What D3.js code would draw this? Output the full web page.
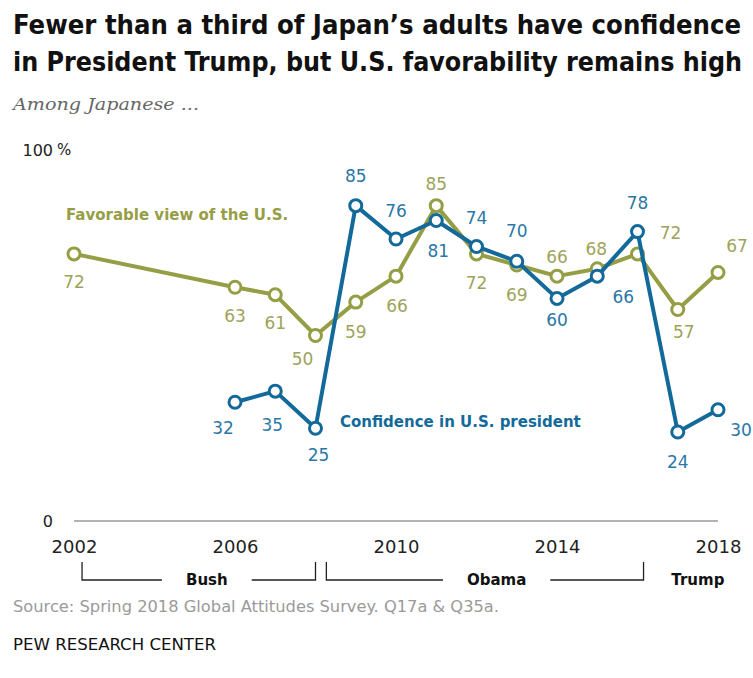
<!DOCTYPE html>
<html>
<head>
<meta charset="utf-8">
<script src="https://cdn.jsdelivr.net/npm/d3@7"></script>
<style>
  body { margin: 0; background: #fff; }
  svg { display: block; }
</style>
</head>
<body>
<svg id="chart" width="753" height="678"></svg>
<script>
// Survey years and results (% of Japanese adults)
const favYears = [2002, 2006, 2007, 2008, 2009, 2010, 2011, 2012, 2013, 2014, 2015, 2016, 2017, 2018];
const favValues = [72, 63, 61, 50, 59, 66, 85, 72, 69, 66, 68, 72, 57, 67];
const confYears = [2006, 2007, 2008, 2009, 2010, 2011, 2012, 2013, 2014, 2015, 2016, 2017, 2018];
const confValues = [32, 35, 25, 85, 76, 81, 74, 70, 60, 66, 78, 24, 30];
const xTicks = [2002, 2006, 2010, 2014, 2018];
const yTicks = [0, 100];

// Value-label nudges [dx, dy] relative to each point
const favLabelNudge = [[0,28],[0,29],[0,28],[-13,23],[0,30],[1,30],[0,-22],[0,29],[0,30],[0,-19],[-1,-20],[33,-21],[6,22],[19,-27]];
const confLabelNudge = [[-12,26],[-3,34],[3,27],[0,-30],[0,-28],[2,30],[0,-29],[0,-30],[0,21],[26,21],[0,-29],[0,30],[23,20]];

// Presidential terms shown under the axis
const termNames = ["Bush", "Obama", "Trump"];
const termStart = [2002.2, 2008.27, null];
const termEnd = [2008, 2016.15, null];
const termLabelAt = [2005.3, 2012.5, 2017.5];

const GREEN = "#969e45", GREEN_TXT = "#9ea35a";
const BLUE = "#136a9a", BLUE_TXT = "#2a77a6";
const COND = "'DejaVu Sans Condensed', 'DejaVu Sans', sans-serif";

const svg = d3.select("#chart");
const x = d3.scaleLinear().domain([2002, 2018]).range([74, 718]);
const y = d3.scaleLinear().domain([0, 100]).range([521, 150]);

// Fits a text run to a given width using condensed glyphs
function fit(sel, width) {
  sel.attr("textLength", width).attr("lengthAdjust", "spacingAndGlyphs");
  return sel;
}

// Title and subtitle
const title = svg.append("g")
  .attr("font-family", COND).attr("font-stretch", "condensed").attr("font-weight", "bold")
  .attr("fill", "#111");
fit(title.append("text").attr("x", 13).attr("y", 34).attr("font-size", 27)
  .text("Fewer than a third of Japan\u2019s adults have confidence"), 728);
fit(title.append("text").attr("x", 13).attr("y", 71).attr("font-size", 26)
  .text("in President Trump, but U.S. favorability remains high"), 729);

fit(svg.append("text").attr("x", 13).attr("y", 110)
  .attr("font-family", "'DejaVu Serif', serif").attr("font-style", "italic")
  .attr("font-size", 17).attr("fill", "#666")
  .text("Among Japanese ..."), 186);

// Baseline and y labels
svg.append("line")
  .attr("x1", x(2002)).attr("x2", x(2018))
  .attr("y1", y(0)).attr("y2", y(0))
  .attr("stroke", "#b3b3b3").attr("stroke-width", 2);

const yLab = svg.append("g").attr("font-family", "'DejaVu Sans', sans-serif")
  .attr("font-size", 16).attr("fill", "#222");
yLab.selectAll("text").data(yTicks).join("text")
  .attr("x", 53).attr("y", d => y(d)).attr("dy", "0.36em")
  .attr("text-anchor", "end").text(d => d);
yLab.append("text").attr("x", 57).attr("y", y(100)).attr("dy", "0.36em")
  .attr("font-size", 15).text("%");

// x axis labels
const xAxis = svg.append("g").attr("transform", `translate(0,${y(0) + 26})`)
  .call(d3.axisBottom(x).tickValues(xTicks).tickFormat(d3.format("d")).tickSize(0));
xAxis.select(".domain").remove();
xAxis.selectAll("text")
  .attr("font-family", "'DejaVu Sans', sans-serif").attr("font-size", 18)
  .attr("fill", "#222").attr("dy", "0.36em").attr("y", 0);

// Presidential term brackets
const bracketTop = 562, bracketY = 580;
termNames.forEach((name, i) => {
  const t = svg.append("text").attr("x", x(termLabelAt[i])).attr("y", bracketY).attr("dy", "0.36em")
    .attr("text-anchor", "middle").attr("font-family", "'DejaVu Sans', sans-serif")
    .attr("font-weight", "bold").attr("font-size", 15).attr("fill", "#111").text(name);
  if (termStart[i] === null) return;
  const bb = t.node().getBBox();
  const gap = 24;
  const x0 = x(termStart[i]), x1 = x(termEnd[i]);
  svg.append("path")
    .attr("d", `M${x0},${bracketTop}V${bracketY}H${bb.x - gap}M${bb.x + bb.width + gap},${bracketY}H${x1}V${bracketTop}`)
    .attr("fill", "none").attr("stroke", "#222").attr("stroke-width", 1.3);
});

// Series lines, markers and value labels
function drawSeries(years, values, nudges, color, textColor) {
  const pts = years.map((yr, i) => ({ yr, v: values[i], n: nudges[i] }));
  const g = svg.append("g");
  g.append("path").datum(pts)
    .attr("d", d3.line().x(d => x(d.yr)).y(d => y(d.v)))
    .attr("fill", "none").attr("stroke", color).attr("stroke-width", 4)
    .attr("stroke-linejoin", "round");
  g.selectAll("circle").data(pts).join("circle")
    .attr("cx", d => x(d.yr)).attr("cy", d => y(d.v)).attr("r", 6)
    .attr("fill", "#fff").attr("stroke", color).attr("stroke-width", 3);
  g.selectAll("text").data(pts).join("text")
    .attr("x", d => x(d.yr) + d.n[0]).attr("y", d => y(d.v) + d.n[1])
    .attr("dy", "0.36em").attr("text-anchor", "middle")
    .attr("font-family", "'DejaVu Sans', sans-serif").attr("font-size", 17)
    .attr("fill", textColor).text(d => d.v);
}
drawSeries(favYears, favValues, favLabelNudge, GREEN, GREEN_TXT);
drawSeries(confYears, confValues, confLabelNudge, BLUE, BLUE_TXT);

// Series names
svg.append("text").attr("x", 66).attr("y", 215).attr("dy", "0.36em")
  .attr("font-family", "'DejaVu Sans', sans-serif").attr("font-weight", "bold")
  .attr("font-size", 15).attr("fill", GREEN).text("Favorable view of the U.S.");
svg.append("text").attr("x", 340).attr("y", 422).attr("dy", "0.36em")
  .attr("font-family", "'DejaVu Sans', sans-serif").attr("font-weight", "bold")
  .attr("font-size", 15).attr("fill", BLUE).text("Confidence in U.S. president");

// Source and credit
fit(svg.append("text").attr("x", 13).attr("y", 606).attr("dy", "0.36em")
  .attr("font-family", COND).attr("font-stretch", "condensed").attr("font-size", 16).attr("fill", "#9a9a9a")
  .text("Source: Spring 2018 Global Attitudes Survey. Q17a & Q35a."), 486);
fit(svg.append("text").attr("x", 13).attr("y", 645).attr("dy", "0.36em")
  .attr("font-family", COND).attr("font-stretch", "condensed").attr("font-size", 15).attr("fill", "#111")
  .text("PEW RESEARCH CENTER"), 203);
</script>
</body>
</html>
